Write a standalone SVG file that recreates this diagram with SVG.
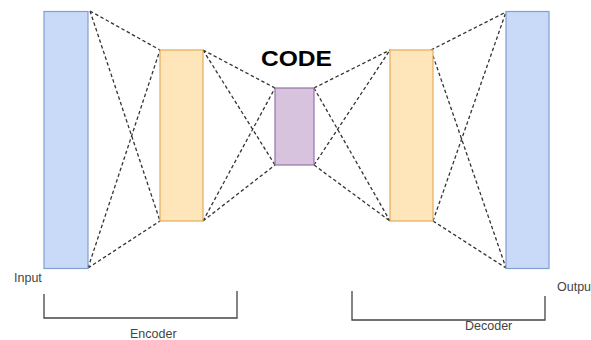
<svg xmlns="http://www.w3.org/2000/svg" width="591" height="340" viewBox="0 0 591 340">
<style>
.blue{fill:#c9daf8;stroke:#7f9ed3;stroke-width:1.2}
.orange{fill:#ffe6ba;stroke:#e3ab5c;stroke-width:1.2}
.purple{fill:#d7c3dd;stroke:#9673a6;stroke-width:1.2}
.dash{fill:none;stroke:#333;stroke-width:1.3;stroke-dasharray:3.5 2.5}
.br{fill:none;stroke:#444;stroke-width:1.3}
.lbl{font-family:"Liberation Sans",Arial,sans-serif;font-size:12.5px;fill:#444}
.code{font-family:"Liberation Sans",Arial,sans-serif;font-size:21.5px;font-weight:bold;fill:#000}
</style>
<rect width="591" height="340" fill="#fff"/>
<g id="connectors">
<path class="dash" d="M90,11 L160,50 M90,11 L160,221 M88,268 L160,50 M88,268 L160,221"/>
<path class="dash" d="M203,50 L275,88 M203,50 L275,165 M203,221 L275,88 M203,221 L275,165"/>
<path class="dash" d="M314,88 L390,50 M314,88 L390,221 M314,165 L390,50 M314,165 L390,221"/>
<path class="dash" d="M431,50 L506,12 M431,50 L506,268 M433,221 L506,12 M433,221 L506,268"/>
</g>
<g id="input"><rect class="blue" x="44" y="11.5" width="44" height="257"/><text class="lbl" x="14" y="282">Input</text></g>
<g id="enc-hidden"><rect class="orange" x="160" y="50" width="43" height="171"/></g>
<g id="code"><rect class="purple" x="275" y="88" width="39" height="77"/><text class="code" x="261" y="65.5" textLength="71" lengthAdjust="spacingAndGlyphs">CODE</text></g>
<g id="dec-hidden"><rect class="orange" x="390" y="50" width="43" height="171"/></g>
<g id="output"><rect class="blue" x="506" y="11.5" width="43" height="257"/><text class="lbl" x="557" y="291">Output</text></g>
<g id="encoder"><path class="br" d="M44,294 V318 H237 V291"/><text class="lbl" x="130" y="338">Encoder</text></g>
<g id="decoder"><path class="br" d="M352,291 V320 H545 V296"/><text class="lbl" x="465" y="330">Decoder</text></g>
</svg>
